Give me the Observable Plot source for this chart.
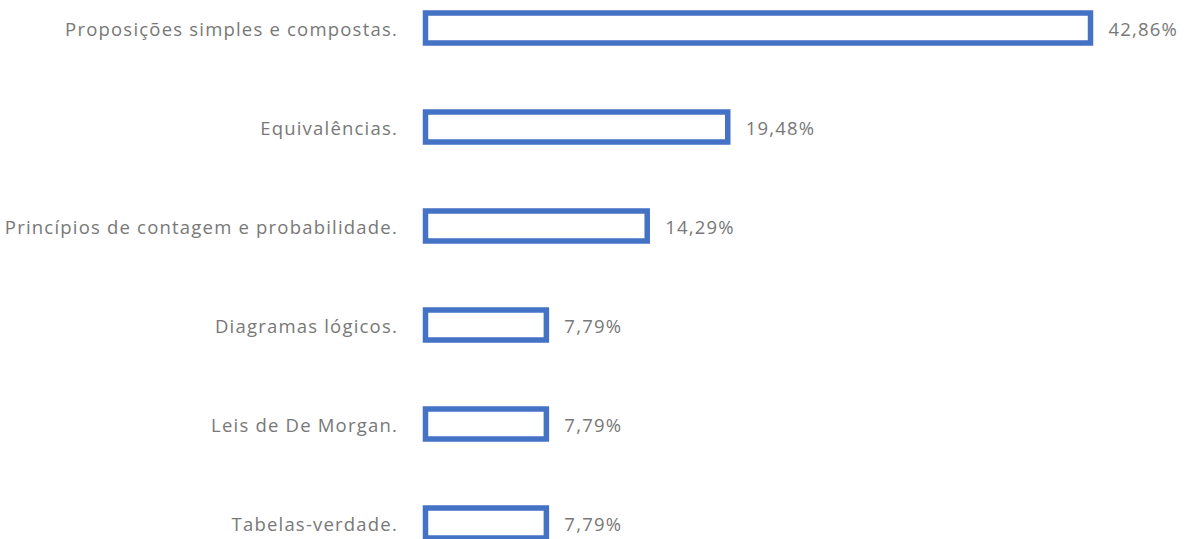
<!DOCTYPE html>
<html>
<head>
<meta charset="utf-8">
<script src="https://cdn.jsdelivr.net/npm/d3@7"></script>
<script src="https://cdn.jsdelivr.net/npm/@observablehq/plot@0.6"></script>
<style>
  html, body { margin: 0; padding: 0; background: #fff; }
  #chart svg { display: block; }
  #chart svg text { letter-spacing: 1.2px; }
</style>
</head>
<body>
<div id="chart"></div>
<script>
const categories = [
  "Proposições simples e compostas.",
  "Equivalências.",
  "Princípios de contagem e probabilidade.",
  "Diagramas lógicos.",
  "Leis de De Morgan.",
  "Tabelas-verdade."
];
const values = [42.86, 19.48, 14.29, 7.79, 7.79, 7.79];
const valueLabels = ["42,86%", "19,48%", "14,29%", "7,79%", "7,79%", "7,79%"];

const data = categories.map((c, i) => ({category: c, value: values[i], label: valueLabels[i]}));

const font = "'Open Sans', sans-serif";
const textColor = "#787878";
const chart = Plot.plot({
  width: 1184,
  height: 539,
  marginLeft: 425.5,
  marginRight: 93.5,
  marginTop: 12.5,
  marginBottom: 0,
  style: {fontFamily: font, fontSize: "18.5px", background: "#fff"},
  x: {domain: [0, 42.86], axis: null},
  y: {domain: categories, range: [12.5, 541], paddingInner: 0.7, paddingOuter: 0, align: 0, label: null},
  marks: [
    Plot.barX(data, {x: "value", y: "category", fill: "#fff", stroke: "#4472C4", strokeWidth: 5.5}),
    Plot.axisY({tickSize: 0, tickPadding: 28, dy: 1.5, fontSize: 18.5, fill: textColor, label: null, fontFamily: font}),
    Plot.text(data, {x: "value", y: "category", text: "label", textAnchor: "start", dx: 17.5, dy: 1.5, fontSize: 18.5, fill: textColor})
  ]
});
document.getElementById("chart").appendChild(chart);
</script>
</body>
</html>
